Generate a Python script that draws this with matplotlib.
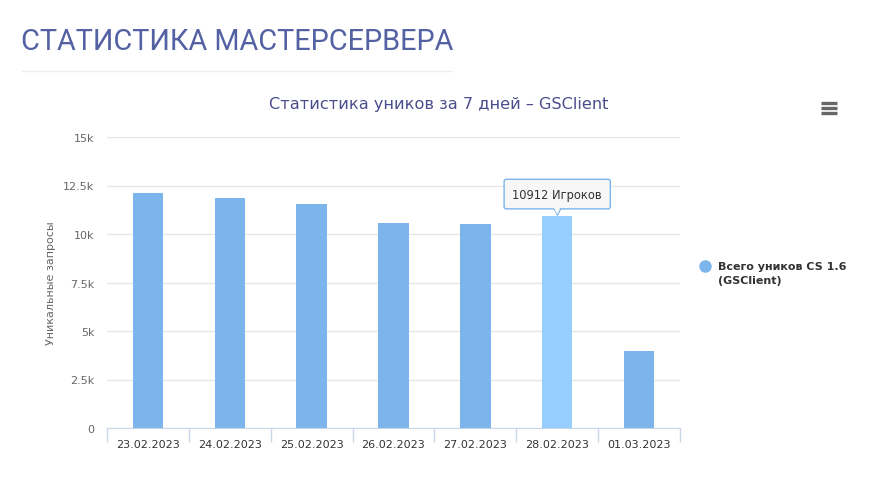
import numpy as np
import matplotlib.pyplot as plt
from matplotlib.lines import Line2D
from matplotlib.ticker import FixedLocator
import matplotlib.transforms as mtransforms

# data
dates = ['23.02.2023', '24.02.2023', '25.02.2023', '26.02.2023',
         '27.02.2023', '28.02.2023', '01.03.2023']
uniques = [12096, 11850, 11572, 10592, 10540, 10912, 3945]
yticks = [0, 2500, 5000, 7500, 10000, 12500, 15000]
ytick_labels = ['0', '2.5k', '5k', '7.5k', '10k', '12.5k', '15k']
hover_idx = 5

W, H = 878, 481
fig = plt.figure(figsize=(W / 100, H / 100), dpi=100)
fig.patch.set_facecolor('white')

def fx(px):
    return px / W

def fy(py):
    return 1 - py / H

# page heading + rule under it
fig.text(fx(21), fy(42), 'СТАТИСТИКА МАСТЕРСЕРВЕРА', fontsize=20.8,
         family='Roboto', color='#5461a3', va='center', ha='left')
fig.add_artist(Line2D([fx(22), fx(452)], [fy(72), fy(72)], color='#eeeeee', lw=1))

# chart title
fig.text(fx(439), fy(105), 'Статистика уников за 7 дней – GSClient', fontsize=11.6,
         color='#4b4d8c', ha='center', va='center')

# hamburger menu icon
for py in (104, 109, 114):
    fig.add_artist(Line2D([fx(821), fx(837)], [fy(py), fy(py)], color='#666666',
                          lw=2.4, solid_capstyle='butt'))

ax = fig.add_axes([fx(107), fy(429), fx(680) - fx(107), fy(138) - fy(429)])
x = np.arange(len(dates))
colors = ['#7cb5ec'] * len(dates)
colors[hover_idx] = '#95ceff'
ax.bar(x, uniques, width=0.37, color=colors, zorder=3)

ax.set_xlim(-0.5, len(dates) - 0.5)
ax.set_ylim(0, 15000)
ax.set_yticks(yticks)
ax.set_yticklabels(ytick_labels)
ax.grid(axis='y', color='#e6e6e6', lw=1, zorder=0)
ax.set_xticks(x)
ax.set_xticklabels(dates)
ax.xaxis.set_minor_locator(FixedLocator(np.arange(len(dates) + 1) - 0.5))
ax.tick_params(axis='x', which='major', length=0, pad=8, labelsize=8, labelcolor='#333333')
ax.tick_params(axis='x', which='minor', length=10, color='#ccd6eb', width=1)
ax.tick_params(axis='y', length=0, pad=9, labelsize=8, labelcolor='#666666')
for s in ('top', 'right', 'left'):
    ax.spines[s].set_visible(False)
ax.spines['bottom'].set_color('#ccd6eb')
ax.set_ylabel('Уникальные запросы', fontsize=8, color='#666666', labelpad=5)

# tooltip on hovered bar
tip = mtransforms.offset_copy(ax.transData, fig=fig, x=0, y=4, units='points')
ax.plot([hover_idx], [uniques[hover_idx]], marker='v', markersize=6,
        color='#f7f7f7', mec='#7cb5ec', mew=0.8, transform=tip, zorder=4, clip_on=False)
ax.annotate(f'{uniques[hover_idx]} Игроков', xy=(hover_idx, uniques[hover_idx]),
            xytext=(0, 16), textcoords='offset points', ha='center', va='center',
            fontsize=8.3, color='#333333',
            bbox=dict(boxstyle='round,pad=0.72,rounding_size=0.2', fc='#f7f7f7',
                      ec='#7cb5ec', lw=1),
            zorder=5)
ax.plot([hover_idx], [uniques[hover_idx]], marker='v', markersize=5,
        color='#f7f7f7', mew=0, transform=tip, zorder=6, clip_on=False)

# legend
fig.add_artist(Line2D([fx(705)], [fy(267)], marker='o', markersize=8, color='#7cb5ec', lw=0))
fig.text(fx(718), fy(267), 'Всего уников CS 1.6', fontsize=8, weight='bold',
         color='#333333', va='center', ha='left')
fig.text(fx(718), fy(281), '(GSClient)', fontsize=8, weight='bold',
         color='#333333', va='center', ha='left')

fig.savefig('out.png', dpi=100)
